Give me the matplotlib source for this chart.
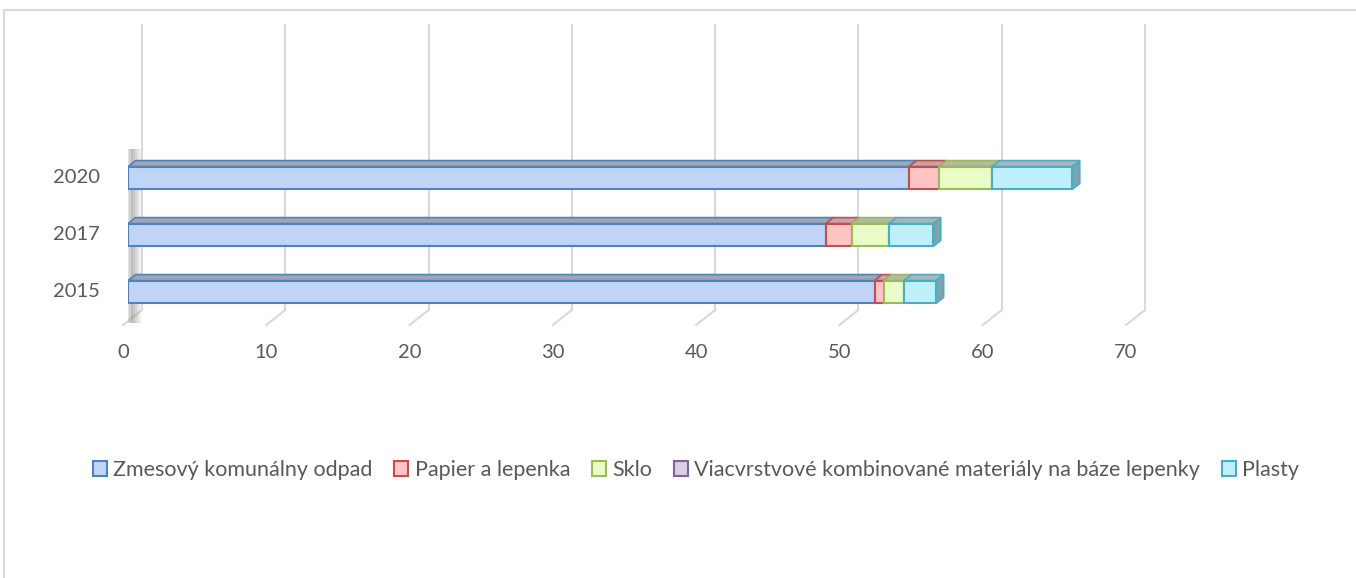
import numpy as np
import matplotlib.pyplot as plt
from matplotlib.patches import Polygon, Rectangle, Patch

plt.rcParams['font.family'] = ['Lato', 'DejaVu Sans']

years = ['2015', '2017', '2020']
series = ['Zmesový komunálny odpad', 'Papier a lepenka', 'Sklo',
          'Viacvrstvové kombinované materiály na báze lepenky', 'Plasty']
zmesovy = [52.1, 48.7, 54.5]
papier = [0.65, 1.8, 2.1]
sklo = [1.4, 2.6, 3.7]
viac = [0.0, 0.0, 0.0]
plasty = [2.25, 3.1, 5.6]
xticks = [0, 10, 20, 30, 40, 50, 60, 70]

values = [zmesovy, papier, sklo, viac, plasty]
faces = ['#bfd4f7', '#ffc4c4', '#e9fcc8', '#d9cdea', '#bff0fa']
tops = ['#a0a7b4', '#c4a6a6', '#b2b9a4', '#b0a8bb', '#a7b6ba']
edges = ['#4f81bd', '#c0504d', '#9bbb59', '#8064a2', '#4bacc6']
txt = '#595959'

W, H = 1356, 578
fig = plt.figure(figsize=(W / 100, H / 100), dpi=100)

# axes placed in pixel terms: x 0..70 -> px 128..1131, y covers px 25..325
ax = fig.add_axes([128 / W, (H - 325) / H, 1003 / W, 300 / H])
ax.set_xlim(0, 70)
ax.set_ylim(-0.579, 4.684)
ax.axis('off')

pxx = 1003 / 70.0   # px per x unit
pxy = 300 / 5.263   # px per y unit

# 3D-ish gridlines: back wall vertical lines + floor diagonals
for v in xticks:
    xb = v + 14 / pxx
    xf = v - 5 / pxx
    yb = -0.579 + 15 / pxy
    ax.plot([xb, xb], [yb, 4.684], color='#d9d9d9', lw=1.5, clip_on=False, zorder=0)
    ax.plot([xb, xf], [yb, -0.579], color='#d9d9d9', lw=1.5, clip_on=False, zorder=0)
    ax.text(xf, -0.579 - 27 / pxy, str(v), ha='center', va='center',
            fontsize=14.5, color=txt)

# left wall shading
shade = [0.15, 0.3, 0.5, 0.7, 0.6, 0.45, 0.3, 0.15]
for i, a in enumerate(shade):
    x0 = (-3 + i * 2.0) / pxx
    ax.add_patch(Rectangle((x0, -0.55), 2.0 / pxx, 3.05, facecolor='#7a7a7a',
                           edgecolor='none', alpha=a * 0.7, zorder=1))

ypos = np.arange(len(years))
h = 0.40
dx, dy = 7.5 / pxx, 6 / pxy
left = np.zeros(len(years))
for k, vals in enumerate(values):
    vals = np.array(vals)
    ax.barh(ypos, vals, height=h, left=left, color=faces[k], edgecolor=edges[k],
            linewidth=1.5, zorder=3)
    for i in range(len(years)):
        if vals[i] <= 0:
            continue
        x0, x1 = left[i], left[i] + vals[i]
        yt = ypos[i] + h / 2
        ax.add_patch(Polygon([(x0, yt), (x1, yt), (x1 + dx, yt + dy), (x0 + dx, yt + dy)],
                             closed=True, facecolor=tops[k], edgecolor=edges[k],
                             lw=1.2, zorder=2))
    left = left + vals

# right side face at the end of each bar
for i in range(len(years)):
    x1 = left[i]
    yb, yt = ypos[i] - h / 2, ypos[i] + h / 2
    ax.add_patch(Polygon([(x1, yb), (x1, yt), (x1 + dx, yt + dy), (x1 + dx, yb + dy)],
                         closed=True, facecolor='#7fa3ad', edgecolor='#4bacc6',
                         lw=1.2, zorder=2))

for i, y in enumerate(years):
    ax.text(-28 / pxx, ypos[i], y, ha='right', va='center', fontsize=14.5, color=txt)

# outer chart border (right and bottom edges run off the image)
fig.patches.append(Rectangle((4 / W, -0.1), 1.2, 1.1 - 10 / H, transform=fig.transFigure,
                             fill=False, edgecolor='#d9d9d9', lw=1.5))

handles = [Patch(facecolor=faces[k], edgecolor=edges[k], linewidth=1.5) for k in range(5)]
fig.legend(handles, series, loc='center', bbox_to_anchor=(696 / W, 1 - 470 / H),
           ncol=5, frameon=False, fontsize=15.5, labelcolor=txt,
           handlelength=0.65, handleheight=0.65, handletextpad=0.3, columnspacing=1.0)

fig.savefig('out.png', dpi=100)
